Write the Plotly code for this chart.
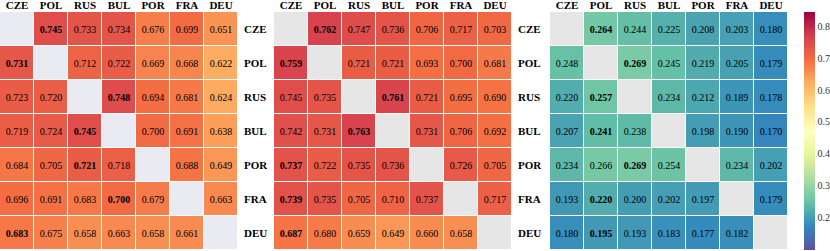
import plotly.graph_objects as go
import plotly.express as px

labels = ["CZE", "POL", "RUS", "BUL", "POR", "FRA", "DEU"]

panel1 = [
    [None, 0.745, 0.733, 0.734, 0.676, 0.699, 0.651],
    [0.731, None, 0.712, 0.722, 0.669, 0.668, 0.622],
    [0.723, 0.720, None, 0.748, 0.694, 0.681, 0.624],
    [0.719, 0.724, 0.745, None, 0.700, 0.691, 0.638],
    [0.684, 0.705, 0.721, 0.718, None, 0.688, 0.649],
    [0.696, 0.691, 0.683, 0.700, 0.679, None, 0.663],
    [0.683, 0.675, 0.658, 0.663, 0.658, 0.661, None],
]
panel2 = [
    [None, 0.762, 0.747, 0.736, 0.706, 0.717, 0.703],
    [0.759, None, 0.721, 0.721, 0.693, 0.700, 0.681],
    [0.745, 0.735, None, 0.761, 0.721, 0.695, 0.690],
    [0.742, 0.731, 0.763, None, 0.731, 0.706, 0.692],
    [0.737, 0.722, 0.735, 0.736, None, 0.726, 0.705],
    [0.739, 0.735, 0.705, 0.710, 0.737, None, 0.717],
    [0.687, 0.680, 0.659, 0.649, 0.660, 0.658, None],
]
panel3 = [
    [None, 0.264, 0.244, 0.225, 0.208, 0.203, 0.180],
    [0.248, None, 0.269, 0.245, 0.219, 0.205, 0.179],
    [0.220, 0.257, None, 0.234, 0.212, 0.189, 0.178],
    [0.207, 0.241, 0.238, None, 0.198, 0.190, 0.170],
    [0.234, 0.266, 0.269, 0.254, None, 0.234, 0.202],
    [0.193, 0.220, 0.200, 0.202, 0.197, None, 0.179],
    [0.180, 0.195, 0.193, 0.183, 0.177, 0.182, None],
]
colorbar_ticks = [0.2, 0.3, 0.4, 0.5, 0.6, 0.7, 0.8]

ZMIN, ZMAX = 0.098, 0.845
W, H = 830, 251
spectral = px.colors.diverging.Spectral[::-1]
cscale = [[i / (len(spectral) - 1), c] for i, c in enumerate(spectral)]
FONT = "Liberation Serif"


def texts(z):
    out = []
    for row in z:
        vals = [v for v in row if v is not None]
        m = max(vals)
        r = []
        for v in row:
            if v is None:
                r.append("")
            elif v == m:
                r.append("<b>%.3f</b>" % v)
            else:
                r.append("%.3f" % v)
        out.append(r)
    return out


def diag(z):
    return [[1 if v is None else None for v in row] for row in z]


fig = go.Figure()
panels = [panel1, panel2, panel3]
diag_colors = ["#EAEAF2", "#E6E6E6", "#E6E6E6"]
domains = [(0, 238), (274, 512), (550, 788)]

for i, (z, dc) in enumerate(zip(panels, diag_colors)):
    xa = "x" if i == 0 else "x%d" % (i + 1)
    ya = "y" if i == 0 else "y%d" % (i + 1)
    fig.add_trace(go.Heatmap(
        z=diag(z), x=labels, y=labels, xaxis=xa, yaxis=ya,
        colorscale=[[0, dc], [1, dc]], showscale=False,
        xgap=1, ygap=1, hoverinfo="skip"))
    fig.add_trace(go.Heatmap(
        z=z, x=labels, y=labels, xaxis=xa, yaxis=ya,
        colorscale=cscale, zmin=ZMIN, zmax=ZMAX,
        text=texts(z), texttemplate="%{text}",
        textfont=dict(family=FONT, size=10, color="black"),
        xgap=1, ygap=1,
        showscale=(i == 2),
        colorbar=dict(
            x=804 / W, xanchor="left", xpad=0, ypad=0,
            thickness=11, len=1, y=0.5, yanchor="middle",
            outlinewidth=0, ticks="", tickvals=colorbar_ticks,
            tickfont=dict(family=FONT, size=10, color="#333333"),
        ),
    ))

layout = dict(
    width=W, height=H,
    margin=dict(l=0, r=0, t=12, b=1),
    paper_bgcolor="white", plot_bgcolor="white",
    showlegend=False,
)
for i, (a, b) in enumerate(domains):
    xk = "xaxis" if i == 0 else "xaxis%d" % (i + 1)
    yk = "yaxis" if i == 0 else "yaxis%d" % (i + 1)
    xa = "x" if i == 0 else "x%d" % (i + 1)
    layout[xk] = dict(
        domain=[a / W, b / W], side="top", anchor="y" if i == 0 else "y%d" % (i + 1),
        showgrid=False, zeroline=False, ticks="", showline=False,
        tickfont=dict(family=FONT, size=11, color="black", weight="bold"),
        ticklabelstandoff=0,
    )
    layout[yk] = dict(
        domain=[0, 1], anchor=xa, side="right", autorange="reversed",
        showgrid=False, zeroline=False, ticks="", showline=False,
        showticklabels=(i < 2),
        tickfont=dict(family=FONT, size=11, color="black", weight="bold"),
        ticklabelstandoff=5,
    )
fig.update_layout(**layout)

fig.write_html(
    "out.html",
    config={"displayModeBar": False},
    post_script="document.body.style.margin='0';document.body.style.overflow='hidden';",
)
